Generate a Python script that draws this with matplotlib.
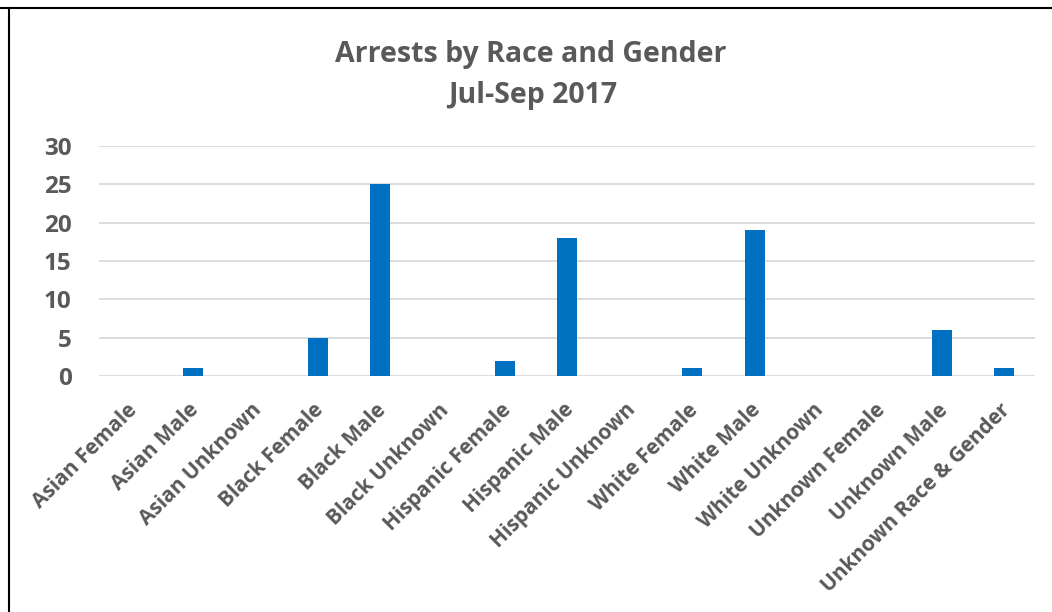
import matplotlib
matplotlib.use("Agg")
import matplotlib.pyplot as plt
from matplotlib.lines import Line2D
from matplotlib.transforms import ScaledTranslation

categories = ["Asian Female", "Asian Male", "Asian Unknown", "Black Female", "Black Male",
              "Black Unknown", "Hispanic Female", "Hispanic Male", "Hispanic Unknown",
              "White Female", "White Male", "White Unknown", "Unknown Female",
              "Unknown Male", "Unknown Race & Gender"]
values = [0, 1, 0, 5, 25, 0, 2, 18, 0, 1, 19, 0, 0, 6, 1]
yticks = [0, 5, 10, 15, 20, 25, 30]
title_line1 = "Arrests by Race and Gender"
title_line2 = "Jul-Sep 2017"

plt.rcParams['font.family'] = ['Open Sans', 'DejaVu Sans']
gray = "#595959"

fig = plt.figure(figsize=(10.52, 6.12), dpi=100)
W, H = 1052, 612
ax = fig.add_axes([99.4 / W, 1 - 376 / H, (1035.4 - 99.4) / W, (376 - 146) / H])

x = list(range(len(categories)))
ax.bar(x, values, width=0.32, color="#0070C0", zorder=3)
ax.set_xlim(-0.5, len(categories) - 0.5)
ax.set_ylim(0, 30)
ax.set_yticks(yticks)
ax.set_yticklabels([str(t) for t in yticks], fontsize=17.5, fontweight='bold', color=gray)
ax.set_xticks(x)
ax.set_xticklabels(categories, rotation=45, ha='right', va='center', rotation_mode='anchor',
                   fontsize=15, fontweight='bold', color=gray)
ax.tick_params(axis='both', length=0)
ax.tick_params(axis='y', pad=20)
ax.tick_params(axis='x', pad=0)
offset = ScaledTranslation(3 / 100, -31 / 100, fig.dpi_scale_trans)
for lbl in ax.get_xticklabels():
    lbl.set_transform(lbl.get_transform() + offset)
ax.grid(axis='y', color="#d9d9d9", linewidth=1.3, zorder=0)
for s in ax.spines.values():
    s.set_visible(False)

fig.text(531 / W, 1 - 62 / H, title_line1, ha='center', va='baseline', fontsize=20.5,
         fontweight='bold', color=gray)
fig.text(533 / W, 1 - 103 / H, title_line2, ha='center', va='baseline', fontsize=20.5,
         fontweight='bold', color=gray)

# image frame lines (top and left)
fig.add_artist(Line2D([0, 1], [1 - 7.5 / H, 1 - 7.5 / H], transform=fig.transFigure,
                      color='black', linewidth=1.5))
fig.add_artist(Line2D([8.5 / W, 8.5 / W], [0, 1 - 7.5 / H], transform=fig.transFigure,
                      color='black', linewidth=1.5))

fig.savefig("out.png", dpi=100)
